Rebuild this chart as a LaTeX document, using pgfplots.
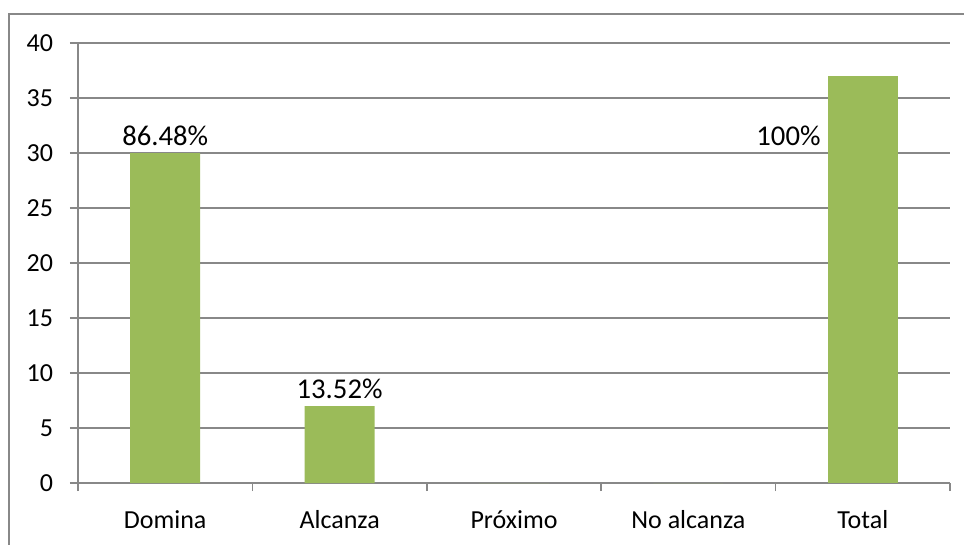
\documentclass[border=0pt]{standalone}
\usepackage{fontspec}
\setmainfont{Carlito}
\usepackage{pgfplots}
\pgfplotsset{compat=1.18}
\definecolor{barg}{HTML}{9BBB59}
\definecolor{gridg}{HTML}{888888}
\newcommand{\lblfont}{\fontsize{21.5pt}{25pt}\selectfont}
\begin{document}
\fontsize{19.5pt}{23pt}\selectfont
\begin{tikzpicture}
% frame: 964x544 px, 1px = 0.75pt
\useasboundingbox (0,0) rectangle (723pt,-408pt);
\draw[gridg, line width=1.2pt] (6.75pt,-410pt) -- (6.75pt,-10.5pt) -- (725pt,-10.5pt);
\begin{axis}[
    at={(58.5pt,-362.25pt)}, anchor=south west,
    scale only axis, width=654pt, height=330pt,
    ybar, bar width=52.5pt, bar shift=0pt,
    xmin=-0.5, xmax=4.5, ymin=0, ymax=40,
    ytick={0,5,...,40},
    xtick={0,1,2,3,4},
    xticklabels={Domina, Alcanza, Próximo, No alcanza, Total},
    minor xtick={-0.5,0.5,...,4.5},
    xtick style={draw=none},
    minor x tick style={draw=gridg, line width=1.1pt},
    ytick style={draw=gridg, line width=1.1pt},
    major tick length=6pt, minor tick length=6pt,
    tick align=outside,
    axis x line*=bottom, axis y line*=left,
    axis line style={draw=gridg, line width=1.1pt, -},
    ymajorgrids, grid style={draw=gridg, line width=1.1pt},
    /pgf/number format/assume math mode=true,
    yticklabel style={xshift=-6pt},
    xticklabel style={yshift=-8pt},
    point meta=explicit symbolic,
    nodes near coords,
]
\addplot[fill=barg, draw=none,
    nodes near coords style={font=\lblfont, anchor=south, yshift=-1.5pt}]
    coordinates {(0,30) [86.48\%] (1,7) [13.52\%] (2,0) [] (3,0) []};
\addplot[fill=barg, draw=none,
    nodes near coords style={font=\lblfont, anchor=east, xshift=-25pt, yshift=-44.5pt}]
    coordinates {(4,37) [100\%]};
\end{axis}
\end{tikzpicture}
\end{document}
